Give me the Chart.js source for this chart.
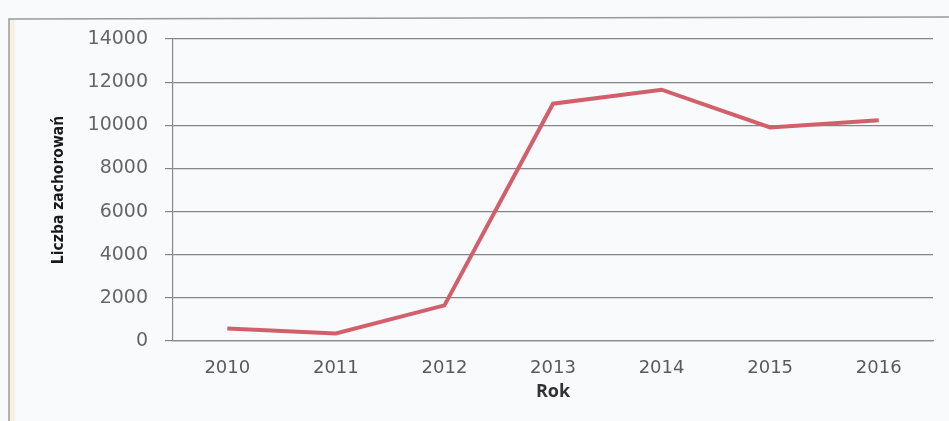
<!DOCTYPE html>
<html>
<head>
<meta charset="utf-8">
<script src="https://cdn.jsdelivr.net/npm/chart.js@4/dist/chart.umd.min.js"></script>
<style>
  html, body { margin: 0; padding: 0; background: #f8f9fa; }
  #wrap { width: 949px; height: 421px; position: relative; }
</style>
</head>
<body>
<div id="wrap"><canvas id="c" width="949" height="421"></canvas></div>
<script>
// Roczna liczba zachorowań
const years = ['2010', '2011', '2012', '2013', '2014', '2015', '2016'];
const cases = [580, 350, 1650, 11000, 11650, 9900, 10230];
const yTicks = [0, 2000, 4000, 6000, 8000, 10000, 12000, 14000];
const yTitle = 'Liczba zachorowań';
const xTitle = 'Rok';

// page frame: light background, thin grey border on the left and top
const framePlugin = {
  id: 'frame',
  beforeDraw(chart) {
    const ctx = chart.ctx;
    ctx.save();
    ctx.fillStyle = '#f9fafb';
    ctx.fillRect(0, 0, chart.width, chart.height);
    ctx.fillStyle = '#f6f1e0';
    ctx.fillRect(10, 20, 5, chart.height - 20);
    ctx.strokeStyle = '#9a9a9a';
    ctx.lineWidth = 1.5;
    ctx.beginPath();
    ctx.moveTo(9, chart.height);
    ctx.lineTo(9, 19);
    ctx.lineTo(chart.width, 17);
    ctx.stroke();
    ctx.restore();
  }
};

new Chart(document.getElementById('c'), {
  type: 'line',
  data: {
    labels: years,
    datasets: [{
      data: cases,
      borderColor: '#d2606a',
      borderWidth: 4,
      pointRadius: 0,
      tension: 0,
      fill: false
    }]
  },
  options: {
    responsive: false,
    animation: false,
    events: [],
    layout: { padding: { left: 0, right: 16, top: 39, bottom: 0 } },
    plugins: { legend: { display: false }, tooltip: { enabled: false } },
    scales: {
      x: {
        offset: true,
        afterFit(scale) { scale.height = 80; },
        grid: { display: false, drawTicks: false },
        border: { display: true, color: '#8a8a8a', width: 1.2 },
        ticks: {
          color: '#5a5a5a',
          padding: 17,
          maxRotation: 0,
          font: { family: 'DejaVu Sans', size: 18 }
        },
        title: {
          display: true,
          text: xTitle,
          color: '#333333',
          padding: { top: 0, bottom: 18 },
          font: { family: 'Open Sans', size: 18, weight: 'bold' }
        }
      },
      y: {
        min: 0,
        max: 14000,
        afterFit(scale) { scale.width = 173; },
        afterBuildTicks(scale) { scale.ticks = yTicks.map(v => ({ value: v })); },
        grid: { color: '#858585', lineWidth: 1.2, tickLength: 8, drawTicks: true },
        border: { display: true, color: '#8a8a8a', width: 1.2 },
        ticks: {
          color: '#666666',
          padding: 17,
          font: { family: 'DejaVu Sans', size: 19 },
          callback: v => String(v)
        },
        title: {
          display: true,
          text: yTitle,
          color: '#1a1a1a',
          padding: { top: 50, bottom: 0 },
          font: { family: "'DejaVu Sans Condensed', sans-serif", size: 15.5, weight: 'bold' }
        }
      }
    }
  },
  plugins: [framePlugin]
});
</script>
</body>
</html>
